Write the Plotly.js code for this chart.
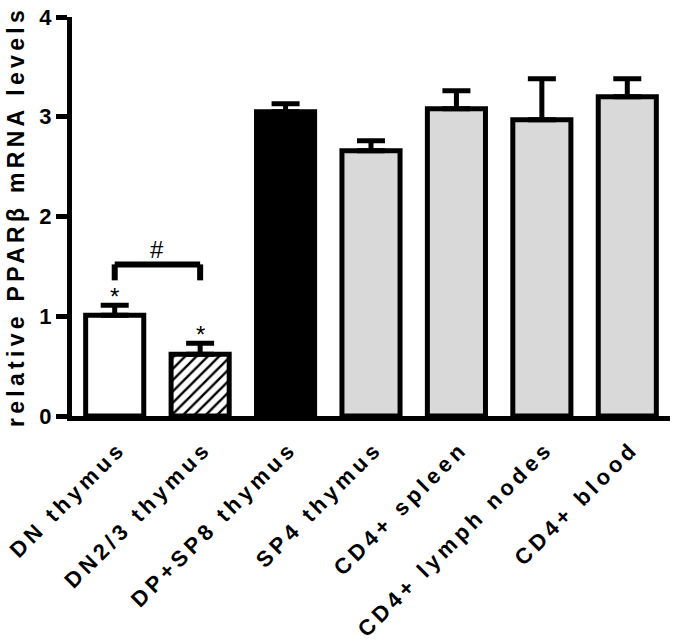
<!DOCTYPE html>
<html>
<head>
<meta charset="utf-8">
<script src="https://cdn.plot.ly/plotly-3.0.1.min.js"></script>
<style>
  body { margin: 0; background: #fff; }
  #chart { width: 675px; height: 641px; }
  .xtick text { letter-spacing: 4.2px; }
  .ytitle { letter-spacing: 4.3px; }
</style>
</head>
<body>
<div id="chart"></div>
<script>
const categories = ["DN thymus", "DN2/3 thymus", "DP+SP8 thymus", "SP4 thymus", "CD4+ spleen", "CD4+ lymph nodes", "CD4+ blood"];
const values = [1.01, 0.62, 3.05, 2.66, 3.08, 2.97, 3.20];
const errors = [0.10, 0.11, 0.08, 0.10, 0.18, 0.41, 0.18];
const barColors = ["#ffffff", "#000000", "#000000", "#d9d9d9", "#d9d9d9", "#d9d9d9", "#d9d9d9"];
const hatch = ["", "/", "", "", "", "", ""];
const starred = [0, 1];
const compared = [0, 1];
const yTicks = [0, 1, 2, 3, 4];

const FONT = "Liberation Sans, Arial, Helvetica, sans-serif";

const trace = {
  type: "bar",
  x: categories,
  y: values,
  marker: {
    color: barColors,
    line: { color: "#000000", width: 5 },
    pattern: { shape: hatch, fgcolor: "#ffffff", size: 8, solidity: 0.3 }
  },
  error_y: {
    type: "data",
    symmetric: false,
    array: errors,
    arrayminus: errors.map(() => 0),
    color: "#000000",
    thickness: 5,
    width: 14
  },
  hoverinfo: "none"
};

// significance annotations
const tops = values.map((v, i) => v + errors[i]);
const bracketBase = Math.max(tops[compared[0]], tops[compared[1]]) + 0.25;
const bracketTop = bracketBase + 0.16;
const shapes = [
  { type: "line", xref: "x", yref: "y", x0: categories[compared[0]], x1: categories[compared[0]], y0: bracketBase, y1: bracketTop, line: { color: "#000", width: 6 } },
  { type: "line", xref: "x", yref: "y", x0: categories[compared[1]], x1: categories[compared[1]], y0: bracketBase, y1: bracketTop, line: { color: "#000", width: 6 } },
  { type: "line", xref: "x", yref: "y", x0: categories[compared[0]], x1: categories[compared[1]], y0: bracketTop, y1: bracketTop, line: { color: "#000", width: 6 } }
];

const annotations = starred.map(i => ({
  x: categories[i], y: tops[i], xref: "x", yref: "y",
  text: "*", showarrow: false, yanchor: "bottom", yshift: -7,
  font: { family: FONT, size: 24, color: "#000" }
}));
annotations.push({
  x: 0.5, y: bracketTop, xref: "x", yref: "y",
  text: "#", showarrow: false, yanchor: "bottom", yshift: -1,
  font: { family: FONT, size: 24, color: "#000" }
});

const layout = {
  width: 675, height: 641,
  margin: { l: 72, r: 5, t: 17, b: 225 },
  paper_bgcolor: "#ffffff",
  plot_bgcolor: "#ffffff",
  showlegend: false,
  bargap: 0.32,
  font: { family: FONT, color: "#000" },
  xaxis: {
    type: "category",
    range: [-0.5, 6.5],
    showline: true, linecolor: "#000", linewidth: 5,
    ticks: "", showgrid: false, zeroline: false,
    tickangle: -45,
    ticklabelstandoff: 6,
    ticklabelshift: 5,
    tickfont: { family: FONT, size: 22, weight: "bold", color: "#000" }
  },
  yaxis: {
    range: [0, 4],
    tickvals: yTicks,
    ticktext: yTicks.map(String),
    showline: true, linecolor: "#000", linewidth: 5,
    ticks: "outside", ticklen: 11, tickwidth: 5, tickcolor: "#000",
    showgrid: false, zeroline: false,
    tickfont: { family: FONT, size: 22, weight: "bold", color: "#000" },
    title: { text: "relative PPARβ mRNA levels", standoff: 10, font: { family: FONT, size: 23, weight: "bold", color: "#000" } }
  },
  shapes: shapes,
  annotations: annotations
};

Plotly.newPlot("chart", [trace], layout, { staticPlot: true, displayModeBar: false });
</script>
</body>
</html>
